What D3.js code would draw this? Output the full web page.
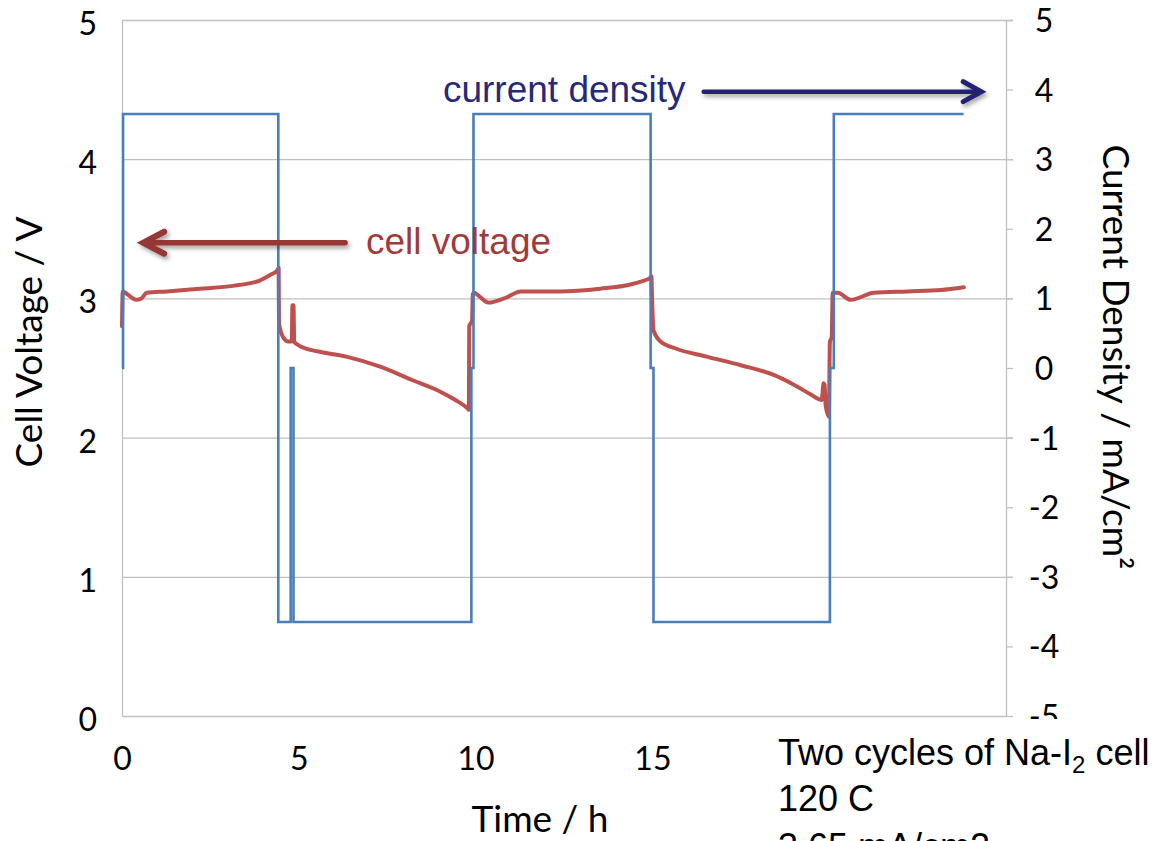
<!DOCTYPE html>
<html>
<head>
<meta charset="utf-8">
<script src="https://cdn.jsdelivr.net/npm/d3@7/dist/d3.min.js"></script>
<style>
  html, body { margin: 0; padding: 0; background: #ffffff; }
  svg { display: block; }
</style>
</head>
<body>
<script>
// ---------- data ----------
const xTicks = [0, 5, 10, 15];
const leftTicks = [0, 1, 2, 3, 4, 5];
const rightTicks = [-5, -4, -3, -2, -1, 0, 1, 2, 3, 4, 5];

// current density (mA/cm2), step-after series
const currentTime  = [0.00, 0.03, 4.42, 4.77, 4.85, 9.88, 9.94, 14.95, 15.03, 20.02, 20.13, 23.80];
const currentValue = [0.00, 3.65, -3.65, 0.00, -3.65, 0.00, 3.65, 0.00, -3.65, 0.00, 3.65, 3.65];

// cell voltage (V)
const voltTime = [0.00, 0.02, 0.15, 0.40, 0.55, 0.70, 1.27, 2.21, 3.14, 3.91, 4.20, 4.39, 4.43,
  4.44, 4.56, 4.70, 4.80, 4.82, 4.85, 4.87, 4.95, 5.20, 5.52, 6.37, 7.30, 8.24, 9.00, 9.43, 9.77,
  9.81, 9.82, 9.90, 9.92, 9.96, 10.08, 10.36, 10.90, 11.27, 12.40, 13.53, 14.38, 14.67, 14.95,
  14.97, 14.99, 15.03, 15.23, 15.66, 16.56, 17.50, 18.43, 19.00, 19.48, 19.79, 19.84, 19.87,
  19.90, 19.99, 20.02, 20.07, 20.10, 20.24, 20.61, 21.26, 22.22, 23.16, 23.81];
const voltValue = [2.80, 3.05, 3.03, 2.99, 3.00, 3.04, 3.05, 3.07, 3.09, 3.13, 3.17, 3.20, 3.22,
  2.82, 2.72, 2.69, 2.69, 2.95, 2.95, 2.69, 2.67, 2.64, 2.62, 2.58, 2.51, 2.41, 2.33, 2.27, 2.21,
  2.20, 2.80, 2.84, 3.03, 3.04, 3.02, 2.97, 3.01, 3.05, 3.05, 3.07, 3.10, 3.12, 3.15,
  3.16, 3.00, 2.77, 2.69, 2.64, 2.58, 2.52, 2.45, 2.38, 2.31, 2.27, 2.39, 2.38,
  2.23, 2.15, 2.69, 2.72, 3.04, 3.04, 2.99, 3.04, 3.05, 3.06, 3.08];

const titleLeft = "Cell Voltage / V";
const titleRight = "Current Density / mA/cm\u00B2";
const titleBottom = "Time / h";
const noteLines = ["Two cycles of Na-I", "120 C", "3.65 mA/cm2"];

// ---------- layout ----------
const W = 1169, H = 841;
const X0 = 122, X1 = 1006, Y0 = 716, Y1 = 20;
const gridColor = "#c0c0c0";
const tickFont = "Lato, 'Open Sans', sans-serif";

const svg = d3.select("body").append("svg").attr("width", W).attr("height", H);

const defs = svg.append("defs");
const f = defs.append("filter").attr("id", "shadow").attr("x", "-10%").attr("y", "-60%")
  .attr("width", "130%").attr("height", "260%");
f.append("feDropShadow").attr("dx", 2).attr("dy", 3).attr("stdDeviation", 2)
  .attr("flood-color", "#000").attr("flood-opacity", 0.35);

const x = d3.scaleLinear().domain([0, 25]).range([X0, X1]);
const yL = d3.scaleLinear().domain([0, 5]).range([Y0, Y1]);
const yR = d3.scaleLinear().domain([-5, 5]).range([Y0, Y1]);

// gridlines (left-axis ticks), extending through the right tick marks
const grid = svg.append("g").attr("transform", `translate(${X0},0)`)
  .call(d3.axisLeft(yL).tickValues(leftTicks.filter(d => d > 0)).tickSize(-(X1 + 7 - X0)).tickFormat(""));
grid.select(".domain").remove();
grid.selectAll("line").attr("stroke", gridColor).attr("stroke-width", 1.3);

// left axis
const gL = svg.append("g").attr("transform", `translate(${X0},0)`)
  .call(d3.axisLeft(yL).tickValues(leftTicks).tickSize(0).tickPadding(25).tickFormat(d => String(d)));
gL.select(".domain").attr("stroke", gridColor).attr("stroke-width", 1.3);
gL.selectAll("text").attr("font-family", tickFont).attr("font-size", 32).attr("fill", "#000").attr("dy", "0.45em");

// bottom axis
const gB = svg.append("g").attr("transform", `translate(0,${Y0})`)
  .call(d3.axisBottom(x).tickValues(xTicks).tickSize(0).tickSizeOuter(0).tickPadding(31).tickFormat(d => String(d)));
gB.select(".domain").attr("stroke", gridColor).attr("stroke-width", 1.3);
gB.selectAll("text").attr("font-family", tickFont).attr("font-size", 32).attr("fill", "#000");

// right axis
const gR = svg.append("g").attr("transform", `translate(${X1},0)`)
  .call(d3.axisRight(yR).tickValues(rightTicks).tickSize(7).tickSizeOuter(0).tickFormat(d => String(d)));
gR.select(".domain").attr("stroke", gridColor).attr("stroke-width", 1.3);
gR.selectAll("line").attr("stroke", gridColor).attr("stroke-width", 1.3);
gR.selectAll("text").attr("font-family", tickFont).attr("font-size", 32).attr("fill", "#000")
  .attr("text-anchor", "middle").attr("x", 38).attr("dy", "0.36em");

// ---------- series ----------
const voltData = voltTime.map((t, i) => ({ t, v: voltValue[i] }));
const currData = currentTime.map((t, i) => ({ t, v: currentValue[i] }));

svg.append("path").datum(voltData)
  .attr("fill", "none").attr("stroke", "#c0504d").attr("stroke-width", 4)
  .attr("stroke-linejoin", "round").attr("stroke-linecap", "round")
  .attr("d", d3.line().x(d => x(d.t)).y(d => yL(d.v)).curve(d3.curveMonotoneX));

svg.append("path").datum(currData)
  .attr("fill", "none").attr("stroke", "#4a7ebb").attr("stroke-width", 2.6)
  .attr("d", d3.line().x(d => x(d.t)).y(d => yR(d.v)).curve(d3.curveStepAfter));

// ---------- annotations ----------
// current density (right axis coordinates)
const cdY = yR(3.97);
svg.append("text").attr("x", x(15.94)).attr("y", yR(3.82)).attr("text-anchor", "end")
  .attr("font-family", "'Liberation Sans', Arial, sans-serif").attr("font-size", 37)
  .attr("fill", "#27287a").text("current density");
const cdArrow = svg.append("g").attr("filter", "url(#shadow)")
  .attr("stroke", "#23246f").attr("fill", "none").attr("stroke-linecap", "round");
cdArrow.append("line").attr("x1", x(16.45)).attr("x2", x(24.25)).attr("y1", cdY).attr("y2", cdY).attr("stroke-width", 4.5);
cdArrow.append("path").attr("stroke-width", 5).attr("stroke-linejoin", "miter")
  .attr("d", `M${x(24.3) - 18},${cdY - 10}L${x(24.3)},${cdY}L${x(24.3) - 18},${cdY + 10}`);

// cell voltage (left axis coordinates)
const cvY = yL(3.40);
svg.append("text").attr("x", x(6.9)).attr("y", yL(3.32))
  .attr("font-family", "'Liberation Sans', Arial, sans-serif").attr("font-size", 37)
  .attr("fill", "#a13b39").text("cell voltage");
const cvArrow = svg.append("g").attr("filter", "url(#shadow)")
  .attr("stroke", "#953735").attr("fill", "none").attr("stroke-linecap", "round");
cvArrow.append("line").attr("x1", x(0.65)).attr("x2", x(6.31)).attr("y1", cvY).attr("y2", cvY).attr("stroke-width", 5.5);
cvArrow.append("path").attr("stroke-width", 6).attr("stroke-linejoin", "miter")
  .attr("d", `M${x(0.6) + 21},${cvY - 11}L${x(0.6)},${cvY}L${x(0.6) + 21},${cvY + 11}`);

// ---------- axis titles ----------
svg.append("text").attr("transform", "translate(42,342) rotate(-90)").attr("text-anchor", "middle")
  .attr("font-family", tickFont).attr("font-size", 37).attr("fill", "#000").text(titleLeft);
svg.append("text").attr("transform", "translate(1103,357) rotate(90)").attr("text-anchor", "middle")
  .attr("font-family", tickFont).attr("font-size", 37).attr("fill", "#000").text(titleRight);
svg.append("text").attr("x", 540).attr("y", 832).attr("text-anchor", "middle")
  .attr("font-family", tickFont).attr("font-size", 37).attr("fill", "#000").text(titleBottom);

// ---------- note box ----------
svg.append("rect").attr("x", 766).attr("y", 719).attr("width", W - 766).attr("height", H - 719).attr("fill", "#fff");
const note = svg.append("text").attr("font-family", "'Liberation Sans', Arial, sans-serif")
  .attr("font-size", 36).attr("fill", "#000");
const l1 = note.append("tspan").attr("x", 778).attr("y", 765);
l1.append("tspan").text(noteLines[0]);
l1.append("tspan").attr("font-size", 24).attr("dy", 8).text("2");
l1.append("tspan").attr("dy", -8).text(" cell");
note.append("tspan").attr("x", 778).attr("y", 811).text(noteLines[1]);
note.append("tspan").attr("x", 778).attr("y", 859).text(noteLines[2]);
</script>
</body>
</html>
